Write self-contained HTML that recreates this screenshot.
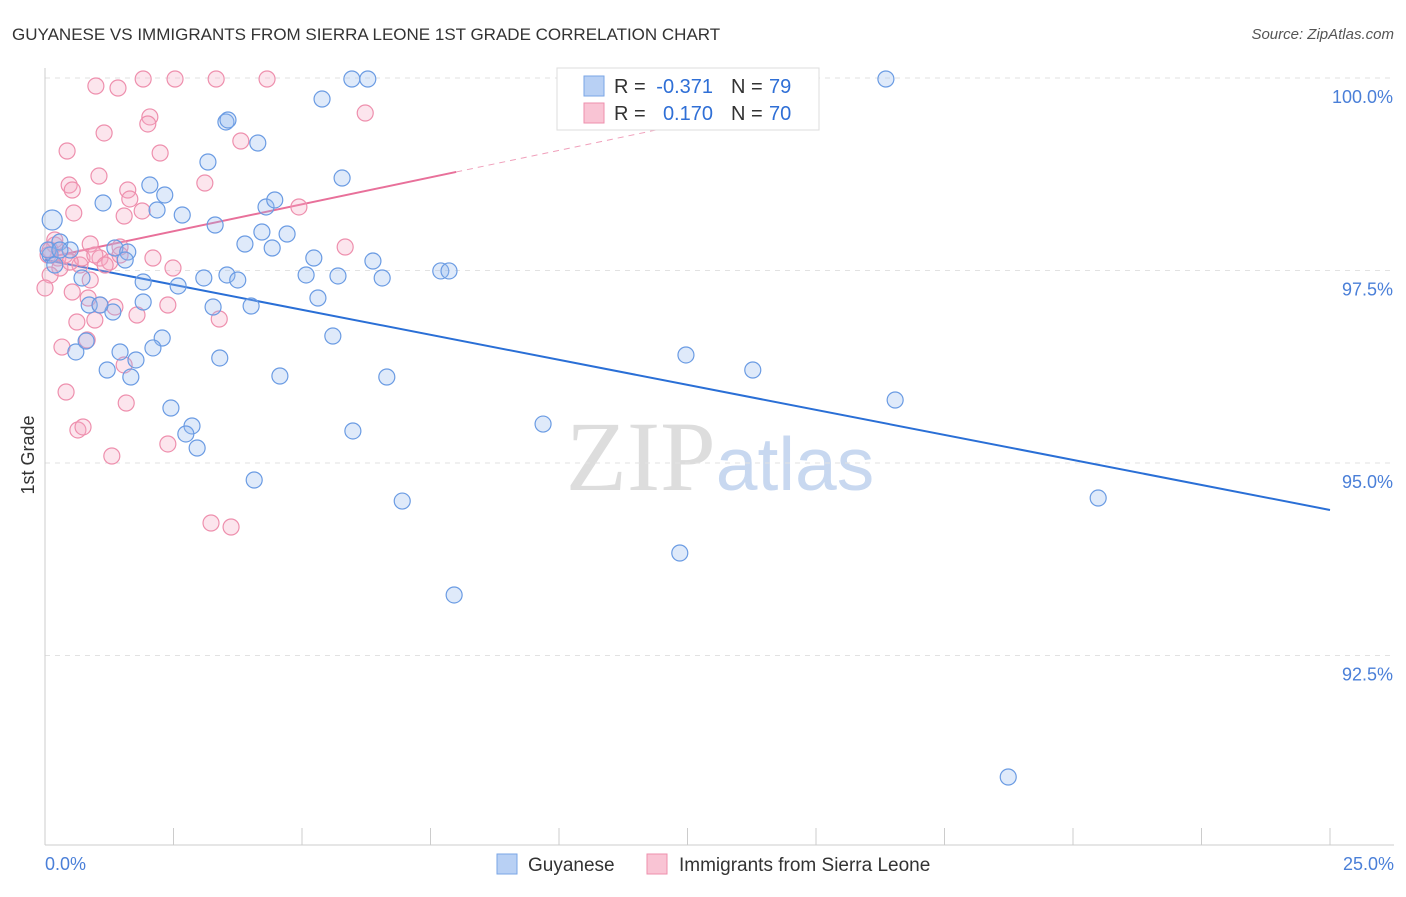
<!DOCTYPE html>
<html><head><meta charset="utf-8"><style>
body{margin:0;background:#fff;font-family:"Liberation Sans",sans-serif}
</style></head><body>
<svg id="chart" width="1406" height="892" xmlns="http://www.w3.org/2000/svg" font-family="Liberation Sans, sans-serif">
<text x="12" y="40" font-size="17" fill="#333">GUYANESE VS IMMIGRANTS FROM SIERRA LEONE 1ST GRADE CORRELATION CHART</text>
<text x="1394" y="39" font-size="15" fill="#555" font-style="italic" text-anchor="end">Source: ZipAtlas.com</text>
<text transform="translate(34,455) rotate(-90)" font-size="18" fill="#333" text-anchor="middle">1st Grade</text>
<text x="720" y="490" font-size="100" text-anchor="middle"><tspan fill="#ddd" font-family="Liberation Serif, serif">ZIP</tspan><tspan fill="#c8d8f0" font-size="75">atlas</tspan></text>
<g id="grid"></g><g id="axes"></g><g id="lines"></g><g id="pts"></g>
<g>
<rect x="557" y="68" width="262" height="62" fill="#fff" stroke="#ddd"/>
<rect x="584" y="76" width="20" height="20" fill="#b8d0f4" stroke="#7aa6e6"/>
<rect x="584" y="103" width="20" height="20" fill="#f9c4d4" stroke="#ee8fad"/>
<text x="614" y="93" font-size="20" fill="#333">R =</text>
<text x="713" y="93" font-size="20" fill="#2f6fd6" text-anchor="end">-0.371</text>
<text x="731" y="93" font-size="20" fill="#333">N =</text>
<text x="769" y="93" font-size="20" fill="#2f6fd6">79</text>
<text x="614" y="120" font-size="20" fill="#333">R =</text>
<text x="713" y="120" font-size="20" fill="#2f6fd6" text-anchor="end">0.170</text>
<text x="731" y="120" font-size="20" fill="#333">N =</text>
<text x="769" y="120" font-size="20" fill="#2f6fd6">70</text>
</g>
<g>
<rect x="497" y="854" width="20" height="20" fill="#b8d0f4" stroke="#7aa6e6"/>
<text x="528" y="871" font-size="19" fill="#333">Guyanese</text>
<rect x="647" y="854" width="20" height="20" fill="#f9c4d4" stroke="#ee8fad"/>
<text x="679" y="871" font-size="19" fill="#333">Immigrants from Sierra Leone</text>
</g>
</svg>
<script>
const NS="http://www.w3.org/2000/svg";
const yTicks=[100,97.5,95,92.5];
const yTickLabels=["100.0%","97.5%","95.0%","92.5%"];
const xTickLabels=["0.0%","25.0%"];
const bluePx=[[52,220],[60,242],[70,250],[50,255],[82,278],[103,203],[115,248],[128,252],[150,185],[157,210],[165,195],[182,215],[208,162],[226,122],[228,120],[258,143],[215,225],[245,244],[262,232],[272,248],[287,234],[266,207],[275,200],[322,99],[352,79],[368,79],[342,178],[314,258],[306,275],[318,298],[338,276],[373,261],[382,278],[441,271],[449,271],[227,275],[204,278],[238,280],[178,286],[143,282],[89,305],[113,312],[143,302],[213,307],[251,306],[333,336],[162,338],[153,348],[120,352],[76,352],[86,341],[107,370],[136,360],[131,377],[220,358],[280,376],[387,377],[171,408],[192,426],[186,434],[197,448],[353,431],[254,480],[402,501],[543,424],[686,355],[753,370],[895,400],[680,553],[454,595],[1098,498],[1008,777],[886,79],[55,265],[48,250],[100,305],[125,260],[60,250]];
const pinkPx=[[96,86],[118,88],[143,79],[175,79],[216,79],[267,79],[365,113],[150,117],[148,124],[104,133],[67,151],[160,153],[99,176],[69,185],[72,190],[128,190],[130,199],[205,183],[241,141],[74,213],[124,216],[142,211],[299,207],[55,245],[90,244],[120,247],[48,255],[58,258],[100,258],[110,262],[153,258],[173,268],[345,247],[60,268],[90,280],[80,265],[50,275],[45,288],[72,292],[88,298],[100,305],[115,307],[168,305],[137,315],[219,319],[77,322],[95,320],[87,340],[62,347],[124,365],[66,392],[126,403],[78,430],[83,427],[112,456],[168,444],[211,523],[231,527],[50,250],[65,255],[82,258],[95,255],[120,255],[105,265],[55,240],[70,262]];
const blueX=bluePx.map(p=>+((p[0]-45)/51.4).toFixed(2));
const blueY=bluePx.map(p=>+(100-(p[1]-78)/77).toFixed(3));
const pinkX=pinkPx.map(p=>+((p[0]-45)/51.4).toFixed(2));
const pinkY=pinkPx.map(p=>+(100-(p[1]-78)/77).toFixed(3));
const blueTrend=[97.64,94.39];
const pinkTrend=[97.66,98.78];
const X=v=>45+v*51.4, Y=v=>78+(100-v)*77;
function mk(t,a,p){const e=document.createElementNS(NS,t);for(const k in a)e.setAttribute(k,a[k]);p.appendChild(e);return e;}
const grid=document.getElementById('grid'),axes=document.getElementById('axes');
yTicks.forEach((t,i)=>{
 const l=mk('line',{x1:45,x2:1394,y1:Y(t),y2:Y(t),stroke:'#e2e2e2','stroke-dasharray':'5,5'},grid);
 
 
 const tx=mk('text',{x:1393,y:Y(t)+25,'font-size':18,fill:'#4a7fd8','text-anchor':'end'},axes);tx.textContent=yTickLabels[i];
 
 
});
mk('line',{x1:45,x2:45,y1:68,y2:845,stroke:'#ccc'},axes);
mk('line',{x1:45,x2:1394,y1:845,y2:845,stroke:'#ccc'},axes);
for(let i=0;i<=10;i++){const x=X(i*2.5);mk('line',{x1:x,x2:x,y1:828,y2:845,stroke:'#ccc'},axes);}
const xl0=mk('text',{x:45,y:870,'font-size':18,fill:'#4a7fd8'},axes);xl0.textContent=xTickLabels[0];


const xl1=mk('text',{x:1394,y:870,'font-size':18,fill:'#4a7fd8','text-anchor':'end'},axes);xl1.textContent=xTickLabels[1];


const pts=document.getElementById('pts');
pinkX.forEach((x,i)=>{const c=mk('circle',{cx:X(x),cy:Y(pinkY[i]),r:8,fill:'rgba(246,170,195,0.3)',stroke:'#ee8fad','stroke-width':1.2},pts);
 
 });
blueX.forEach((x,i)=>{const c=mk('circle',{cx:X(x),cy:Y(blueY[i]),r:(i==0?10:8),fill:'rgba(150,185,240,0.3)',stroke:'#6a9be3','stroke-width':1.2},pts);
 
 });
const lines=document.getElementById('lines');
const bl=mk('line',{x1:X(0),y1:Y(blueTrend[0]),x2:X(25),y2:Y(blueTrend[1]),stroke:'#2a6fd6','stroke-width':2},lines);


const slope=(pinkTrend[1]-pinkTrend[0])/8;
const pl=mk('line',{x1:X(0),y1:Y(pinkTrend[0]),x2:X(8),y2:Y(pinkTrend[1]),stroke:'#e8709a','stroke-width':2},lines);


const xe=(819-45)/51.4;
const pd=mk('line',{x1:X(8),y1:Y(pinkTrend[1]),x2:X(xe),y2:Y(pinkTrend[0]+slope*xe),stroke:'#f0a0bb','stroke-width':1,'stroke-dasharray':'6,5'},lines);


</script>
</body></html>
